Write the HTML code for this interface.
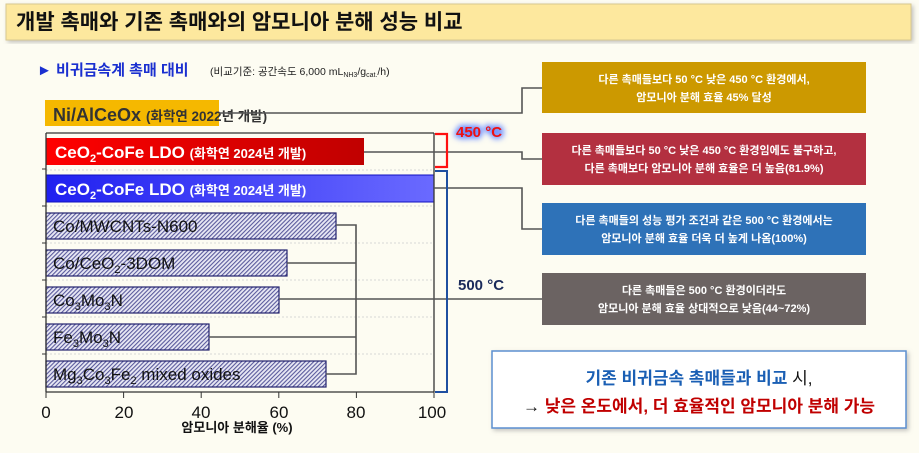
<!DOCTYPE html>
<html><head><meta charset="utf-8"><style>
body{margin:0;background:#fdfcf2;}
svg{display:block;font-family:"Liberation Sans","Noto Sans CJK KR",sans-serif;}
</style></head><body>
<svg width="919" height="453" viewBox="0 0 919 453" xmlns="http://www.w3.org/2000/svg">
<defs>
<pattern id="h" width="3" height="3" patternUnits="userSpaceOnUse" patternTransform="rotate(45)">
<rect width="3" height="3" fill="#e8e8f4"/><rect width="1.1" height="3" fill="#5a5a9c"/>
</pattern>
<linearGradient id="rg" x1="0" x2="1"><stop offset="0" stop-color="#ff0000"/><stop offset="1" stop-color="#c00000"/></linearGradient>
<linearGradient id="bg" x1="0" x2="1"><stop offset="0" stop-color="#2020f0"/><stop offset="1" stop-color="#6a6aff"/></linearGradient>
<filter id="glow" x="-20%" y="-50%" width="140%" height="200%"><feGaussianBlur stdDeviation="3"/></filter>
<filter id="sh"><feDropShadow dx="2" dy="2" stdDeviation="2" flood-color="#888" flood-opacity="0.5"/></filter>
</defs>
<rect width="919" height="453" fill="#fdfcf2"/>
<rect x="6" y="4" width="905" height="36" fill="#fde89e" stroke="#d8c890" filter="url(#sh)"/>
<text x="16" y="29" font-size="21" font-weight="bold" fill="#111">개발 촉매와 기존 촉매와의 암모니아 분해 성능 비교</text>
<text x="37" y="75" font-size="15" font-weight="bold" fill="#1a2fd0">► 비귀금속계 촉매 대비</text>
<text x="210" y="75" font-size="10.5" fill="#222">(비교기준: 공간속도 6,000 mL<tspan font-size="7" dy="2">NH3</tspan><tspan dy="-2">/g</tspan><tspan font-size="7" dy="2">cat.</tspan><tspan dy="-2">/h)</tspan></text>
<rect x="45" y="100" width="174" height="26" fill="#f5b800"/>
<text x="53" y="121" font-size="18" font-weight="bold" fill="#333">Ni/AlCeOx <tspan font-size="13.5">(화학연 2022년 개발)</tspan></text>
<g stroke="#ccc" stroke-dasharray="2,2" stroke-width="0.8">
<line x1="46" y1="170" x2="434" y2="170"/><line x1="46" y1="206" x2="434" y2="206"/><line x1="46" y1="243" x2="434" y2="243"/><line x1="46" y1="280" x2="434" y2="280"/><line x1="46" y1="317" x2="434" y2="317"/><line x1="46" y1="354" x2="434" y2="354"/>
</g>
<rect x="46" y="138" width="318" height="27" fill="url(#rg)"/>
<text x="55" y="158" font-size="17" font-weight="bold" fill="#fff">CeO<tspan font-size="11" dy="4">2</tspan><tspan dy="-4">-CoFe LDO </tspan><tspan font-size="13">(화학연 2024년 개발)</tspan></text>
<rect x="46" y="175" width="388" height="27" fill="url(#bg)" stroke="#1010c0"/>
<text x="55" y="195" font-size="17" font-weight="bold" fill="#fff">CeO<tspan font-size="11" dy="4">2</tspan><tspan dy="-4">-CoFe LDO </tspan><tspan font-size="13">(화학연 2024년 개발)</tspan></text>
<g stroke="#22226e" stroke-width="1.2" fill="url(#h)">
<rect x="46" y="213" width="290" height="26"/>
<rect x="46" y="250" width="241" height="26"/>
<rect x="46" y="287" width="233" height="26"/>
<rect x="46" y="324" width="163" height="26"/>
<rect x="46" y="361" width="280" height="26"/>
</g>
<g font-size="17" fill="#111">
<text x="53" y="232">Co/MWCNTs-N600</text>
<text x="53" y="269">Co/CeO<tspan font-size="11" dy="4">2</tspan><tspan dy="-4">-3DOM</tspan></text>
<text x="53" y="306">Co<tspan font-size="11" dy="4">3</tspan><tspan dy="-4">Mo</tspan><tspan font-size="11" dy="4">3</tspan><tspan dy="-4">N</tspan></text>
<text x="53" y="343">Fe<tspan font-size="11" dy="4">3</tspan><tspan dy="-4">Mo</tspan><tspan font-size="11" dy="4">3</tspan><tspan dy="-4">N</tspan></text>
<text x="53" y="380">Mg<tspan font-size="11" dy="4">3</tspan><tspan dy="-4">Co</tspan><tspan font-size="11" dy="4">3</tspan><tspan dy="-4">Fe</tspan><tspan font-size="11" dy="4">2</tspan><tspan dy="-4"> mixed oxides</tspan></text>
</g>
<g stroke="#333" stroke-width="1.3" fill="none">
<line x1="46" y1="133" x2="434" y2="133"/>
<line x1="434" y1="133" x2="434" y2="392"/>
<line x1="46" y1="133" x2="46" y2="392"/>
<line x1="46" y1="392" x2="434" y2="392"/>
</g>
<g stroke="#333" stroke-width="1">
<line x1="42" y1="169" x2="46" y2="169"/><line x1="42" y1="206" x2="46" y2="206"/><line x1="42" y1="243" x2="46" y2="243"/><line x1="42" y1="280" x2="46" y2="280"/><line x1="42" y1="317" x2="46" y2="317"/><line x1="42" y1="354" x2="46" y2="354"/>
<line x1="46" y1="392" x2="46" y2="398"/><line x1="123.6" y1="392" x2="123.6" y2="398"/><line x1="201.2" y1="392" x2="201.2" y2="398"/><line x1="278.8" y1="392" x2="278.8" y2="398"/><line x1="356.4" y1="392" x2="356.4" y2="398"/><line x1="434" y1="392" x2="434" y2="398"/>
</g>
<g font-size="17" fill="#111" text-anchor="middle">
<text x="46" y="418">0</text><text x="124" y="418">20</text><text x="201" y="418">40</text><text x="279" y="418">60</text><text x="356" y="418">80</text><text x="432" y="418">100</text>
</g>
<text x="237" y="432" font-size="13" font-weight="bold" fill="#111" text-anchor="middle">암모니아 분해율 (%)</text>
<g stroke="#555" stroke-width="1.6" fill="none">
<polyline points="219,113 522,113 522,88 542,88"/>
<polyline points="364,152 522,152 522,159 542,159"/>
<polyline points="434,188 522,188 522,229 542,229"/>
<polyline points="336,225 356,225 356,374 326,374"/>
<line x1="287" y1="263" x2="356" y2="263"/>
<line x1="209" y1="337" x2="356" y2="337"/>
<line x1="279" y1="299" x2="542" y2="299"/>
</g>
<polyline points="435,134 447,134 447,167 435,167" fill="none" stroke="#ff1010" stroke-width="2.2"/>
<polyline points="435,171 447,171 447,392 435,392" fill="none" stroke="#1f4fa0" stroke-width="2"/>
<text x="456" y="137" font-size="15" font-weight="bold" fill="#6a8cff" stroke="#6a8cff" stroke-width="4" filter="url(#glow)">450 °C</text>
<text x="456" y="137" font-size="15" font-weight="bold" fill="#ee1111">450 °C</text>
<text x="458" y="290" font-size="15" font-weight="bold" fill="#1a2a5a">500 °C</text>
<g font-size="11" font-weight="bold" fill="#fff" text-anchor="middle">
<rect x="542" y="62" width="324" height="51" fill="#cc9900"/>
<text x="704" y="83">다른 촉매들보다 50 °C 낮은 450 °C 환경에서,</text>
<text x="704" y="101">암모니아 분해 효율 45% 달성</text>
<rect x="542" y="133" width="324" height="52" fill="#b33040"/>
<text x="704" y="154">다른 촉매들보다 50 °C 낮은 450 °C 환경임에도 불구하고,</text>
<text x="704" y="172">다른 촉매보다 암모니아 분해 효율은 더 높음(81.9%)</text>
<rect x="542" y="203" width="324" height="52" fill="#2e72b8"/>
<text x="704" y="224">다른 촉매들의 성능 평가 조건과 같은 500 °C 환경에서는</text>
<text x="704" y="242">암모니아 분해 효율 더욱 더 높게 나옴(100%)</text>
<rect x="542" y="273" width="324" height="52" fill="#6b6362"/>
<text x="704" y="294">다른 촉매들은 500 °C 환경이더라도</text>
<text x="704" y="312">암모니아 분해 효율 상대적으로 낮음(44~72%)</text>
</g>
<rect x="492" y="351" width="414" height="77" fill="#fff" stroke="#5b8fd0" stroke-width="1.5" filter="url(#sh)"/>
<text x="699" y="384" font-size="17" font-weight="bold" fill="#1a5fb4" text-anchor="middle">기존 비귀금속 촉매들과 비교 <tspan fill="#111" font-weight="normal">시,</tspan></text>
<text x="699" y="412" font-size="17" font-weight="bold" fill="#c00000" text-anchor="middle"><tspan fill="#111" font-weight="normal">→ </tspan>낮은 온도에서, 더 효율적인 암모니아 분해 가능</text>
</svg>
</body></html>
